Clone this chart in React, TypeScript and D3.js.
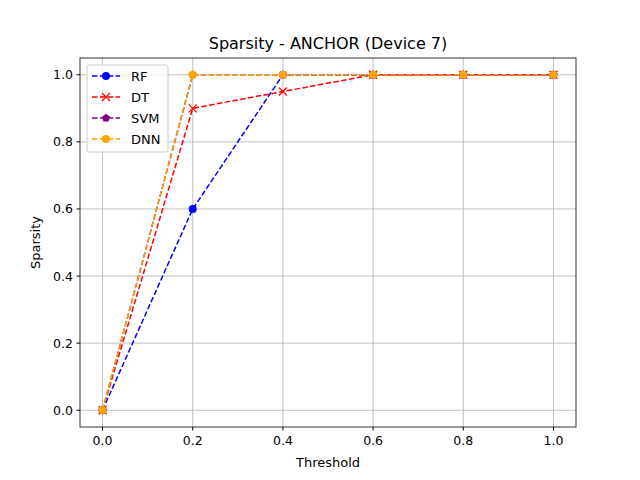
import React from 'react';
import * as d3 from 'd3';

const thresholds = [0, 0.2, 0.4, 0.6, 0.8, 1.0];
const rf = [0, 0.6, 1, 1, 1, 1];
const dt = [0, 0.9, 0.95, 1, 1, 1];
const svm = [0, 1, 1, 1, 1, 1];
const dnn = [0, 1, 1, 1, 1, 1];
const ticks = [0, 0.2, 0.4, 0.6, 0.8, 1.0];

const series = [
  { name: 'RF', values: rf, color: 'blue', marker: 'circle' },
  { name: 'DT', values: dt, color: 'red', marker: 'x' },
  { name: 'SVM', values: svm, color: 'purple', marker: 'pentagon' },
  { name: 'DNN', values: dnn, color: 'orange', marker: 'circle' },
];

const W = 640, H = 480;
const m = { left: 80, right: 64, top: 58, bottom: 53 };

function Marker({ type, x, y, color }: { type: string; x: number; y: number; color: string }) {
  if (type === 'x') {
    const s = 4;
    return <path d={`M${x - s},${y - s}L${x + s},${y + s}M${x - s},${y + s}L${x + s},${y - s}`} stroke={color} strokeWidth={1.2} />;
  }
  if (type === 'pentagon') {
    const pts = d3.range(5).map(i => {
      const a = -Math.PI / 2 + (i * 2 * Math.PI) / 5;
      return `${x + 4.3 * Math.cos(a)},${y + 4.3 * Math.sin(a)}`;
    }).join(' ');
    return <polygon points={pts} fill={color} />;
  }
  return <circle cx={x} cy={y} r={4} fill={color} />;
}

export default function App() {
  const x = d3.scaleLinear().domain([-0.05, 1.05]).range([m.left, W - m.right]);
  const y = d3.scaleLinear().domain([-0.05, 1.05]).range([H - m.bottom, m.top]);
  const line = d3.line<number>().x((_, i) => x(thresholds[i])).y(d => y(d));
  const font = 'DejaVu Sans, sans-serif';
  return (
    <svg width={W} height={H} style={{ position: 'absolute', left: 0, top: 0, background: '#fff' }} fontFamily={font}>
      <rect width={W} height={H} fill="#fff" />
      {ticks.map(t => (
        <g key={'g' + t}>
          <line x1={x(t)} x2={x(t)} y1={m.top} y2={H - m.bottom} stroke="#b0b0b0" strokeWidth={0.8} />
          <line x1={m.left} x2={W - m.right} y1={y(t)} y2={y(t)} stroke="#b0b0b0" strokeWidth={0.8} />
          <line x1={x(t)} x2={x(t)} y1={H - m.bottom} y2={H - m.bottom + 3.5} stroke="#000" />
          <text x={x(t)} y={H - m.bottom + 18} fontSize={12.5} textAnchor="middle">{t.toFixed(1)}</text>
          <line x1={m.left - 3.5} x2={m.left} y1={y(t)} y2={y(t)} stroke="#000" />
          <text x={m.left - 7} y={y(t) + 4.5} fontSize={12.5} textAnchor="end">{t.toFixed(1)}</text>
        </g>
      ))}
      {series.map(s => (
        <g key={s.name}>
          <path d={line(s.values) || ''} fill="none" stroke={s.color} strokeWidth={1.5} strokeDasharray="5.5,2.4" />
          {s.values.map((v, i) => <Marker key={i} type={s.marker} x={x(thresholds[i])} y={y(v)} color={s.color} />)}
        </g>
      ))}
      <rect x={m.left} y={m.top} width={W - m.left - m.right} height={H - m.top - m.bottom} fill="none" stroke="#000" strokeWidth={0.8} />
      <text x={(m.left + W - m.right) / 2} y={m.top - 9} fontSize={16} textAnchor="middle">Sparsity - ANCHOR (Device 7)</text>
      <text x={(m.left + W - m.right) / 2} y={H - 13} fontSize={13} textAnchor="middle">Threshold</text>
      <text transform={`translate(40,${(m.top + H - m.bottom) / 2}) rotate(-90)`} fontSize={13} textAnchor="middle">Sparsity</text>
      <g>
        <rect x={87} y={65} width={81} height={87} rx={2} fill="#fff" fillOpacity={0.8} stroke="#ccc" />
        {series.map((s, i) => {
          const ly = 76 + i * 21;
          return (
            <g key={'l' + s.name}>
              <line x1={92} x2={120} y1={ly} y2={ly} stroke={s.color} strokeWidth={1.5} strokeDasharray="5.5,2.4" />
              <Marker type={s.marker} x={106} y={ly} color={s.color} />
              <text x={131} y={ly + 4.5} fontSize={13}>{s.name}</text>
            </g>
          );
        })}
      </g>
    </svg>
  );
}
